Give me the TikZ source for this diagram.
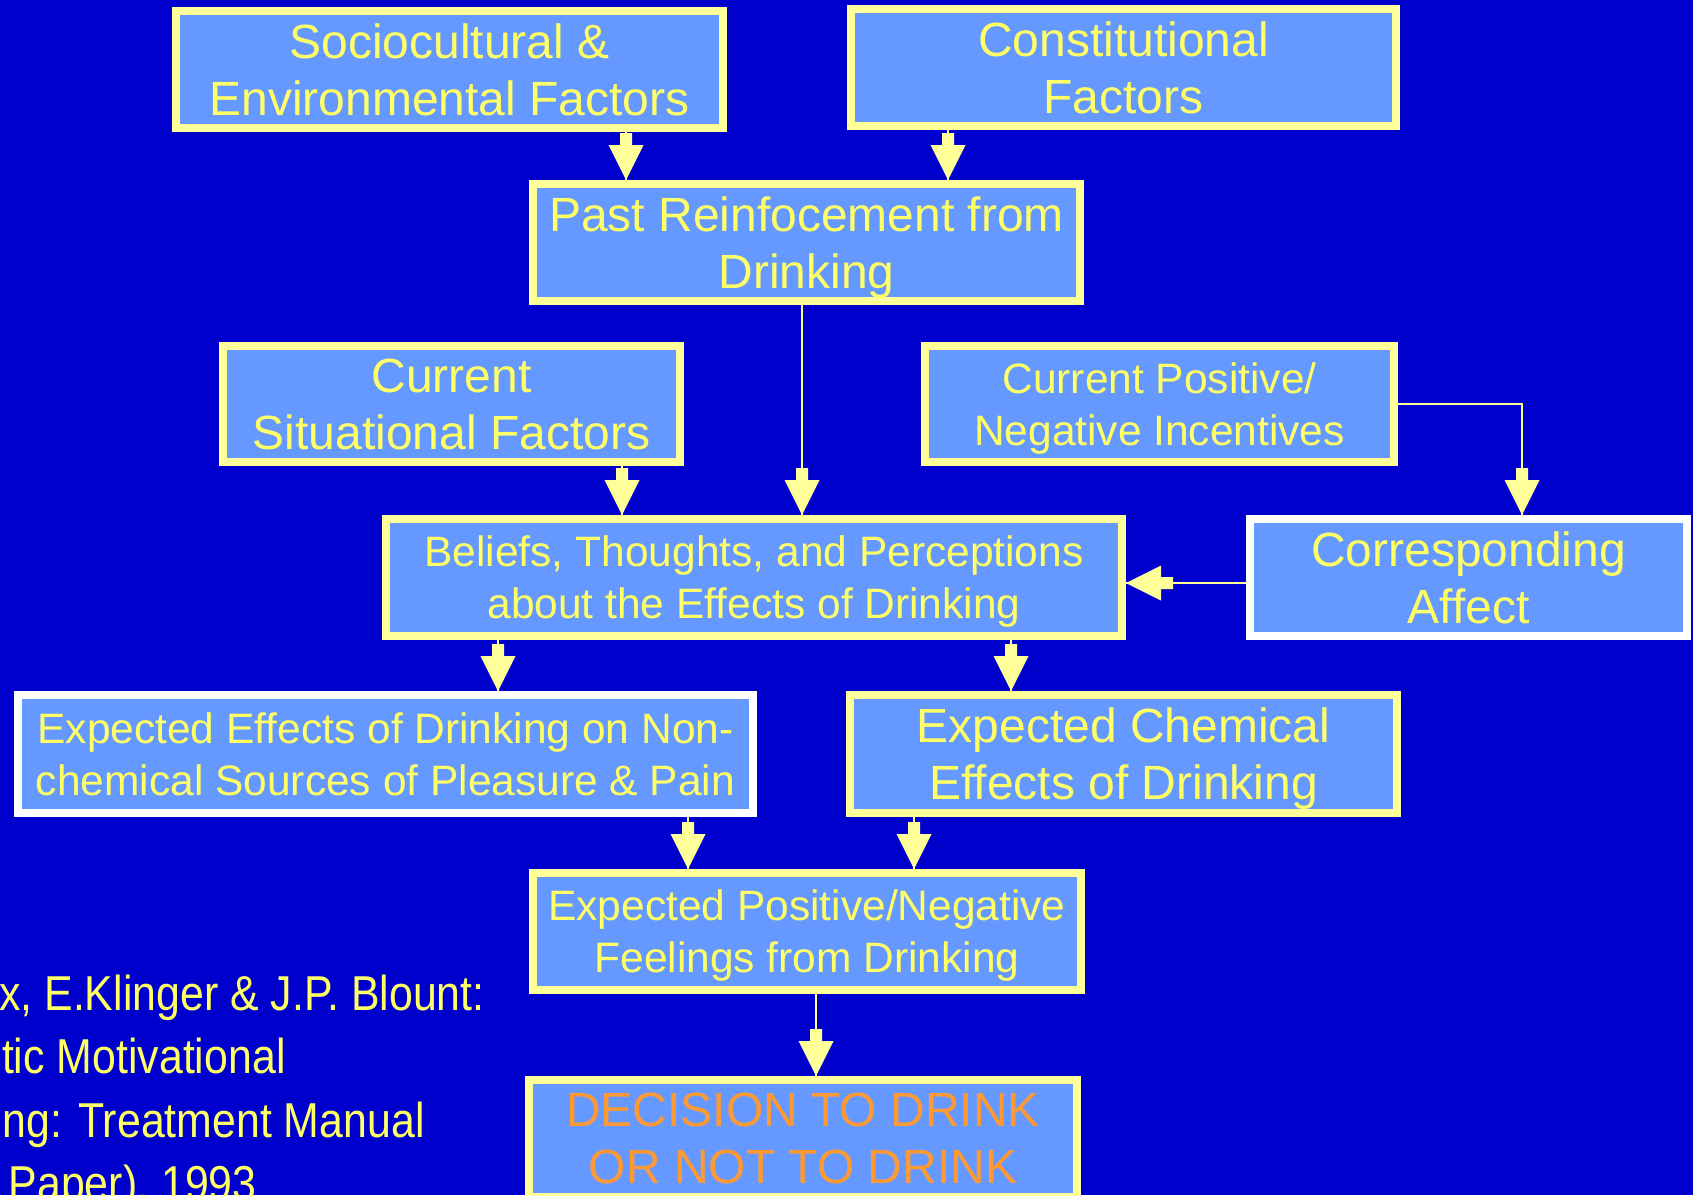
\documentclass[tikz,border=0pt]{standalone}
\usepackage{fontspec}
\setmainfont{Liberation Sans}
\newfontfamily\narrowf[FakeStretch=0.875]{Liberation Sans}
\definecolor{bg}{HTML}{0000CC}
\definecolor{boxfill}{HTML}{6699FF}
\definecolor{ylw}{HTML}{FFFF99}
\definecolor{txt}{HTML}{FFFF66}
\definecolor{orng}{HTML}{FF9933}
\tikzset{
  flowbox/.style={draw=ylw, line width=4pt, fill=boxfill, text=txt, align=center, inner sep=0pt, text depth=0pt},
  whitebox/.style={flowbox, draw=white},
  bigtxt/.style={font=\fontsize{24}{28.5}\selectfont},
  smalltxt/.style={font=\fontsize{21.25}{26}\selectfont},
  conn/.style={draw=ylw, line width=1pt},
  citetxt/.style={text=txt, anchor=base east, inner sep=0pt, font=\narrowf\fontsize{24.5}{31.75}\selectfont},
  downhead/.pic={\fill[ylw] (-6,-47) -- (6,-47) -- (6,-35) -- (17.5,-35) -- (0,0) -- (-17.5,-35) -- (-6,-35) -- cycle;},
  lefthead/.pic={\fill[ylw] (47,-6) -- (47,6) -- (35,6) -- (35,17.5) -- (0,0) -- (35,-17.5) -- (35,-6) -- cycle;}
}
\begin{document}
\begin{tikzpicture}[x=0.5pt,y=-0.5pt]
\useasboundingbox (0,0) rectangle (1693,1195);
\fill[bg] (0,0) rectangle (1693,1195);

% citation (cut by the left and bottom edges)
\begin{scope}
\clip (0,0) rectangle (1693,1195);
\node[citetxt] (cite1) at (485,1010) {x, E.Klinger \& J.P. Blount:};
\node[citetxt] (cite2) at (286,1073.5) {tic Motivational};
\node[citetxt] (cite3) at (425,1137) {ng: Treatment Manual};
\node[citetxt] (cite4) at (257,1200) {Paper), 1993};
\end{scope}

% boxes
\node[flowbox, bigtxt, minimum width=273.5pt, minimum height=58.5pt] (socio) at (449.5,69.5) {Sociocultural \&\\Environmental Factors};
\node[flowbox, bigtxt, minimum width=272.5pt, minimum height=58.5pt] (const) at (1123.5,67.5) {Constitutional\\Factors};
\node[flowbox, bigtxt, minimum width=273.5pt, minimum height=58.5pt] (past) at (806.5,242.5) {Past Reinfocement from\\Drinking};
\node[flowbox, bigtxt, minimum width=228.5pt, minimum height=58pt] (cursit) at (451.5,404) {Current\\Situational Factors};
\node[flowbox, smalltxt, minimum width=234.5pt, minimum height=58pt] (curpos) at (1159.5,404) {Current Positive/\\Negative Incentives};
\node[flowbox, smalltxt, minimum width=368pt, minimum height=58.5pt] (bel) at (754,577.5) {Beliefs, Thoughts, and Perceptions\\about the Effects of Drinking};
\node[whitebox, bigtxt, minimum width=218.5pt, minimum height=58.5pt] (aff) at (1468.5,577.5) {Corresponding\\Affect};
\node[whitebox, smalltxt, minimum width=367.5pt, minimum height=59pt] (noncm) at (385.5,754) {Expected Effects of Drinking on Non-\\chemical Sources of Pleasure \& Pain};
\node[flowbox, bigtxt, minimum width=273.5pt, minimum height=59pt] (chem) at (1123.5,754) {Expected Chemical\\Effects of Drinking};
\node[flowbox, smalltxt, minimum width=274pt, minimum height=58.5pt] (exppos) at (807,931.5) {Expected Positive/Negative\\Feelings from Drinking};
\node[flowbox, bigtxt, text=orng, minimum width=274pt, minimum height=58.5pt] (dec) at (803,1138.5) {DECISION TO DRINK\\OR NOT TO DRINK};

% arrow columns / rows
\coordinate (cA) at (626,0);
\coordinate (cB) at (948,0);
\coordinate (cC) at (802,0);
\coordinate (cD) at (622,0);
\coordinate (cE) at (498,0);
\coordinate (cF) at (1011,0);
\coordinate (cG) at (688,0);
\coordinate (cH) at (914,0);
\coordinate (cI) at (816,0);
\coordinate (cJ) at (1522,0);
\coordinate (rR) at (0,583);

% connectors
\draw[conn] (socio.south -| cA) -- (past.north -| cA);
\pic at (past.north -| cA) {downhead};
\draw[conn] (const.south -| cB) -- (past.north -| cB);
\pic at (past.north -| cB) {downhead};
\draw[conn] (past.south -| cC) -- (bel.north -| cC);
\pic at (bel.north -| cC) {downhead};
\draw[conn] (cursit.south -| cD) -- (bel.north -| cD);
\pic at (bel.north -| cD) {downhead};
\draw[conn] (curpos.east) -| (aff.north -| cJ);
\pic at (aff.north -| cJ) {downhead};
\draw[conn] (aff.west |- rR) -- (bel.east |- rR);
\pic at (bel.east |- rR) {lefthead};
\draw[conn] (bel.south -| cE) -- (noncm.north -| cE);
\pic at (noncm.north -| cE) {downhead};
\draw[conn] (bel.south -| cF) -- (chem.north -| cF);
\pic at (chem.north -| cF) {downhead};
\draw[conn] (noncm.south -| cG) -- (exppos.north -| cG);
\pic at (exppos.north -| cG) {downhead};
\draw[conn] (chem.south -| cH) -- (exppos.north -| cH);
\pic at (exppos.north -| cH) {downhead};
\draw[conn] (exppos.south -| cI) -- (dec.north -| cI);
\pic at (dec.north -| cI) {downhead};
\end{tikzpicture}
\end{document}
